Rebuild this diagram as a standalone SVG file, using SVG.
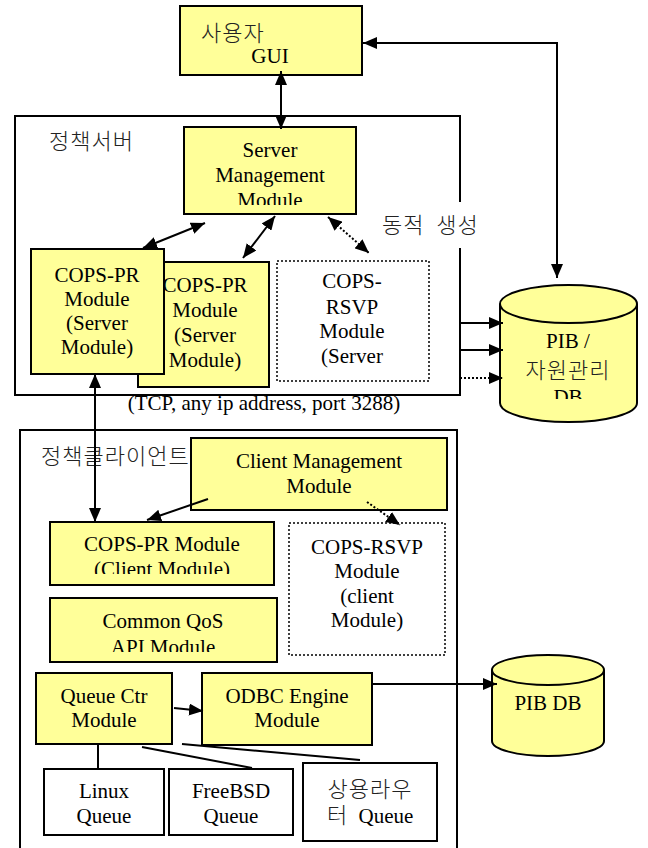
<svg xmlns="http://www.w3.org/2000/svg" width="648" height="848" viewBox="0 0 648 848">
<defs>
<style>
.box{fill:#FFFF99;stroke:#000;stroke-width:2}
.wbox{fill:#fff;stroke:#000;stroke-width:2}
.dbox{fill:#fff;stroke:#000;stroke-width:1.5;stroke-dasharray:2 2}
.frame{fill:none;stroke:#000;stroke-width:2}
.t{font-family:"Liberation Serif","Times New Roman",serif;font-size:21px;fill:#000;text-anchor:middle}
.k{font-family:"Noto Sans CJK KR","Liberation Serif",sans-serif;font-size:22px;fill:#222;font-weight:300;letter-spacing:1px}
.km{text-anchor:middle}
.c{stroke:#000;stroke-width:2;fill:none}
.cd{stroke:#000;stroke-width:2;fill:none;stroke-dasharray:2 2}
</style>
<marker id="ah" viewBox="0 0 14 12" refX="14" refY="6" markerWidth="14" markerHeight="12" markerUnits="userSpaceOnUse" orient="auto-start-reverse">
<path d="M0,0 L14,6 L0,12 z" fill="#000"/>
</marker>
<clipPath id="clipSM"><rect x="184" y="127" width="172" height="78"/></clipPath>
<clipPath id="clipPIB"><rect x="500" y="300" width="137" height="99"/></clipPath>
<clipPath id="clipCPR"><rect x="50" y="522" width="224" height="52"/></clipPath>
<clipPath id="clipQoS"><rect x="50" y="598" width="227" height="54"/></clipPath>
<clipPath id="clipRSVP"><rect x="277" y="261" width="152" height="108"/></clipPath>
</defs>

<g id="server-frame">
<path class="frame" d="M460,202 L460,116 L15,116 L15,395 L460,395 L460,248"/>
<text class="k" x="49" y="149">정책서버</text>
<text class="k" x="382" y="233" word-spacing="6">동적 생성</text>
<text class="t" x="264" y="410">(TCP, any ip address, port 3288)</text>
</g>

<g id="client-frame">
<rect class="frame" x="20" y="430" width="437" height="440"/>
<text class="k" x="41" y="464">정책클라이언트</text>
</g>

<g id="gui">
<rect class="box" x="180" y="6" width="182" height="69"/>
<text class="k" x="201" y="41">사용자</text>
<text class="t" x="270" y="63">GUI</text>
</g>

<g id="server-mgmt">
<rect class="box" x="184" y="127" width="172" height="87"/>
<g clip-path="url(#clipSM)">
<text class="t" x="270" y="157">Server</text>
<text class="t" x="270" y="182">Management</text>
<text class="t" x="270" y="207">Module</text>
</g>
</g>

<g id="cops-pr-server-back">
<rect class="box" x="138" y="262" width="131" height="125"/>
<text class="t" x="205" y="292">COPS-PR</text>
<text class="t" x="205" y="317">Module</text>
<text class="t" x="205" y="342">(Server</text>
<text class="t" x="205" y="367">Module)</text>
</g>

<g id="cops-pr-server-front">
<rect class="box" x="31" y="249" width="133" height="125"/>
<text class="t" x="97" y="282">COPS-PR</text>
<text class="t" x="97" y="306">Module</text>
<text class="t" x="97" y="330">(Server</text>
<text class="t" x="97" y="354">Module)</text>
</g>

<g id="cops-rsvp-server">
<rect class="dbox" x="277" y="261" width="152" height="120"/>
<g clip-path="url(#clipRSVP)">
<text class="t" x="352" y="288">COPS-</text>
<text class="t" x="352" y="314">RSVP</text>
<text class="t" x="352" y="338">Module</text>
<text class="t" x="352" y="363">(Server</text>
</g>
</g>

<g id="pib-db-main">
<path class="box" d="M500,304 L500,403 A68.5,19 0 0 0 637,403 L637,304"/>
<ellipse class="box" cx="568.5" cy="304" rx="68.5" ry="19"/>
<g clip-path="url(#clipPIB)">
<text class="t" x="568" y="348">PIB /</text>
<text class="k km" x="568" y="378">자원관리</text>
<text class="t" x="568" y="404">DB</text>
</g>
</g>

<g id="client-mgmt">
<rect class="box" x="191" y="438" width="256" height="72"/>
<text class="t" x="319" y="468">Client Management</text>
<text class="t" x="319" y="493">Module</text>
</g>

<g id="cops-pr-client">
<rect class="box" x="50" y="522" width="224" height="63"/>
<g clip-path="url(#clipCPR)">
<text class="t" x="162" y="551">COPS-PR Module</text>
<text class="t" x="162" y="576">(Client Module)</text>
</g>
</g>

<g id="cops-rsvp-client">
<rect class="dbox" x="289" y="523" width="156" height="132"/>
<text class="t" x="367" y="554">COPS-RSVP</text>
<text class="t" x="367" y="578">Module</text>
<text class="t" x="367" y="603">(client</text>
<text class="t" x="367" y="627">Module)</text>
</g>

<g id="common-qos">
<rect class="box" x="50" y="598" width="227" height="64"/>
<g clip-path="url(#clipQoS)">
<text class="t" x="163" y="628">Common QoS</text>
<text class="t" x="163" y="654">API Module</text>
</g>
</g>

<g id="queue-ctr">
<rect class="box" x="36" y="673" width="136" height="71"/>
<text class="t" x="104" y="703">Queue Ctr</text>
<text class="t" x="104" y="727">Module</text>
</g>

<g id="odbc">
<rect class="box" x="202" y="673" width="170" height="72"/>
<text class="t" x="287" y="703">ODBC Engine</text>
<text class="t" x="287" y="727">Module</text>
</g>

<g id="pib-db">
<path class="box" d="M492,670 L492,741 A56,15 0 0 0 604,741 L604,670"/>
<ellipse class="box" cx="548" cy="670" rx="56" ry="15"/>
<text class="t" x="548" y="710">PIB DB</text>
</g>

<g id="linux-queue">
<rect class="wbox" x="44" y="769" width="120" height="66"/>
<text class="t" x="104" y="798">Linux</text>
<text class="t" x="104" y="823">Queue</text>
</g>

<g id="freebsd-queue">
<rect class="wbox" x="169" y="769" width="124" height="66"/>
<text class="t" x="231" y="798">FreeBSD</text>
<text class="t" x="231" y="823">Queue</text>
</g>

<g id="router-queue">
<rect class="wbox" x="303" y="763" width="134" height="78"/>
<text class="k km" x="370" y="797">상용라우</text>
<text class="k" x="327" y="823">터</text>
<text class="t" x="386" y="823">Queue</text>
</g>

<g id="connectors">
<path class="c" d="M557,278 L557,43 L363,43" marker-start="url(#ah)" marker-end="url(#ah)"/>
<line class="c" x1="281" y1="71" x2="281" y2="129" marker-start="url(#ah)" marker-end="url(#ah)"/>
<line class="c" x1="205" y1="223" x2="143" y2="248" marker-start="url(#ah)" marker-end="url(#ah)"/>
<line class="c" x1="275" y1="216" x2="243" y2="258" marker-start="url(#ah)" marker-end="url(#ah)"/>
<line class="cd" x1="328" y1="217" x2="369" y2="253" marker-start="url(#ah)" marker-end="url(#ah)"/>
<line class="c" x1="460" y1="323" x2="503" y2="323" marker-end="url(#ah)"/>
<line class="c" x1="460" y1="350" x2="503" y2="350" marker-end="url(#ah)"/>
<line class="cd" x1="460" y1="378" x2="503" y2="378" marker-end="url(#ah)"/>
<line class="c" x1="95" y1="374" x2="95" y2="522" marker-start="url(#ah)" marker-end="url(#ah)"/>
<line class="c" x1="208" y1="499" x2="147" y2="520" marker-end="url(#ah)"/>
<line class="cd" x1="367" y1="502" x2="400" y2="525" marker-end="url(#ah)"/>
<line class="c" x1="174" y1="708" x2="203" y2="711" marker-end="url(#ah)"/>
<line class="c" x1="372" y1="684" x2="497" y2="684" marker-end="url(#ah)"/>
<line class="c" x1="98" y1="745" x2="98" y2="768"/>
<line class="c" x1="142" y1="747" x2="252" y2="768"/>
<line class="c" x1="182" y1="744" x2="360" y2="760"/>
</g>
</svg>
